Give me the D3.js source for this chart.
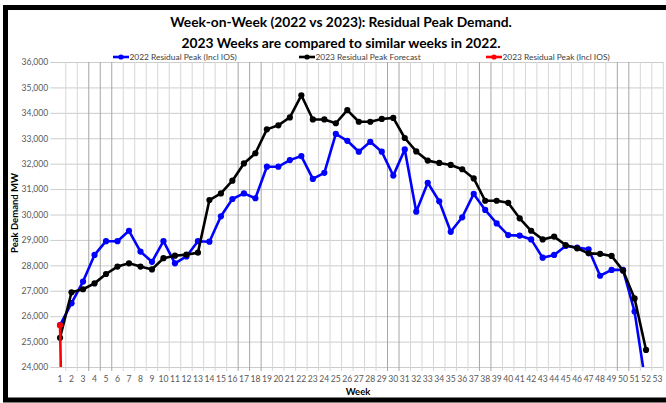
<!DOCTYPE html>
<html><head><meta charset="utf-8">
<script src="https://cdn.jsdelivr.net/npm/d3@7"></script>
<style>body{margin:0;background:#fff}svg{display:block}text{font-family:Lato,"Open Sans",sans-serif}</style>
</head><body><svg id="c" width="666" height="403"></svg>
<script>
const weeks = d3.range(1, 54);
const weekLabels = weeks.map(String);
const yTicks = [24000,25000,26000,27000,28000,29000,30000,31000,32000,33000,34000,35000,36000];
const titleLines = ["Week-on-Week (2022 vs 2023): Residual Peak Demand.", "2023 Weeks are compared to similar weeks in 2022."];
const seriesNames = ["2022 Residual Peak (Incl IOS)", "2023 Residual Peak Forecast", "2023 Residual Peak (Incl IOS)"];
const seriesColors = ["#0000ff", "#000000", "#ff0000"];
const peak2022 = [25650,26510,27360,28410,28950,28950,29360,28540,28140,28950,28080,28350,28950,28930,29930,30610,30830,30640,31880,31880,32140,32300,31400,31640,33170,32900,32470,32860,32470,31530,32560,30110,31250,30520,29320,29890,30810,30180,29650,29190,29170,29020,28300,28410,28760,28700,28630,27590,27820,27820,26180,23230];
const forecast2023 = [25150,26940,27060,27290,27660,27950,28080,27950,27840,28280,28380,28420,28500,30570,30830,31330,32010,32410,33350,33510,33820,34690,33740,33740,33590,34110,33650,33650,33760,33800,33010,32480,32120,32030,31950,31780,31420,30540,30540,30460,29850,29360,29020,29130,28800,28670,28470,28450,28370,27790,26700,24670];
const actual2023 = [25640, 0];

const svg = d3.select("#c");
const L = 54.3, R = 663.3, T = 62, B = 367;
const x = d3.scaleBand().domain(weeks).range([L, R]);
const y = d3.scaleLinear().domain([24000, 36000]).range([B, T]);
const cx = w => x(w) + x.bandwidth() / 2;

// border
svg.append("rect").attr("x", 5.5).attr("y", 7.5).attr("width", 700).attr("height", 392.5)
  .attr("fill", "none").attr("stroke", "#000").attr("stroke-width", 5);

// title
svg.selectAll(".title").data(titleLines).join("text")
  .attr("x", 341).attr("y", (d, i) => 27 + i * 21).attr("text-anchor", "middle")
  .attr("font-size", 13.8).attr("font-weight", "bold").attr("fill", "#000").text(d => d);

// horizontal gridlines + y axis
const yAxis = d3.axisLeft(y).tickValues(yTicks).tickFormat(d3.format(",")).tickSize(-(R - L + 4)).tickSizeOuter(0);
const gy = svg.append("g").attr("transform", `translate(${L - 4},0)`).call(yAxis);
gy.select(".domain").remove();
gy.selectAll(".tick line").attr("stroke", "#cccccc").attr("stroke-width", 1);
gy.selectAll(".tick text").attr("font-size", 8.6).attr("fill", "#595959").attr("x", -2);

// vertical gridlines at category boundaries
const darkB = new Set([3,4,5,16,17,18,29,30,37,38,49,50]);
const bounds = d3.range(1, 54);
svg.append("g").selectAll("line").data(bounds).join("line")
  .attr("x1", k => L + k * x.step()).attr("x2", k => L + k * x.step())
  .attr("y1", T).attr("y2", B + 4)
  .attr("stroke", k => darkB.has(k) ? "#a6a6a6" : "#d6d6d6").attr("stroke-width", 1);

// x axis labels
const xAxis = d3.axisBottom(x).tickValues(weeks).tickFormat((d, i) => weekLabels[i]).tickSize(0);
const gx = svg.append("g").attr("transform", `translate(0,${B})`).call(xAxis);
gx.select(".domain").remove();
gx.selectAll(".tick text").attr("font-size", 8.6).attr("fill", "#595959").attr("dy", "1.45em");

// axis titles
svg.append("text").attr("transform", "translate(18,213) rotate(-90)").attr("text-anchor", "middle")
  .attr("font-size", 9.5).attr("font-weight", "bold").attr("fill", "#000").text("Peak Demand MW");
svg.append("text").attr("x", 358).attr("y", 395).attr("text-anchor", "middle")
  .attr("font-size", 9.5).attr("font-weight", "bold").attr("fill", "#000").text("Week");

// clip
svg.append("clipPath").attr("id", "clip").append("rect").attr("x", L - 6).attr("y", T - 6).attr("width", R - L + 12).attr("height", B - T + 6);
const plot = svg.append("g").attr("clip-path", "url(#clip)");

const allSeries = [peak2022, forecast2023, actual2023];
const line = d3.line().x((d, i) => cx(weeks[i])).y(d => y(d));
allSeries.forEach((vals, si) => {
  const g = plot.append("g");
  g.append("path").datum(vals).attr("d", line).attr("fill", "none")
    .attr("stroke", seriesColors[si]).attr("stroke-width", 2.6).attr("stroke-linejoin", "round");
  g.selectAll("circle").data(vals.map((v, i) => [i, v]).filter(d => d[1] >= 24000)).join("circle")
    .attr("cx", d => cx(weeks[d[0]])).attr("cy", d => y(d[1])).attr("r", 3.1).attr("fill", seriesColors[si]);
});

// legend
const legX = [113, 299, 486];
const lg = svg.append("g").selectAll("g").data(seriesNames).join("g")
  .attr("transform", (d, i) => `translate(${legX[i]},57)`);
lg.append("line").attr("x1", 0).attr("x2", 16).attr("y1", 0).attr("y2", 0)
  .attr("stroke", (d, i) => seriesColors[i]).attr("stroke-width", 2.6);
lg.append("circle").attr("cx", 8).attr("cy", 0).attr("r", 2.6).attr("fill", (d, i) => seriesColors[i]);
lg.append("text").attr("x", 16.5).attr("y", 3).attr("font-size", 8.4).attr("fill", "#404040").text(d => d);
</script></body></html>
